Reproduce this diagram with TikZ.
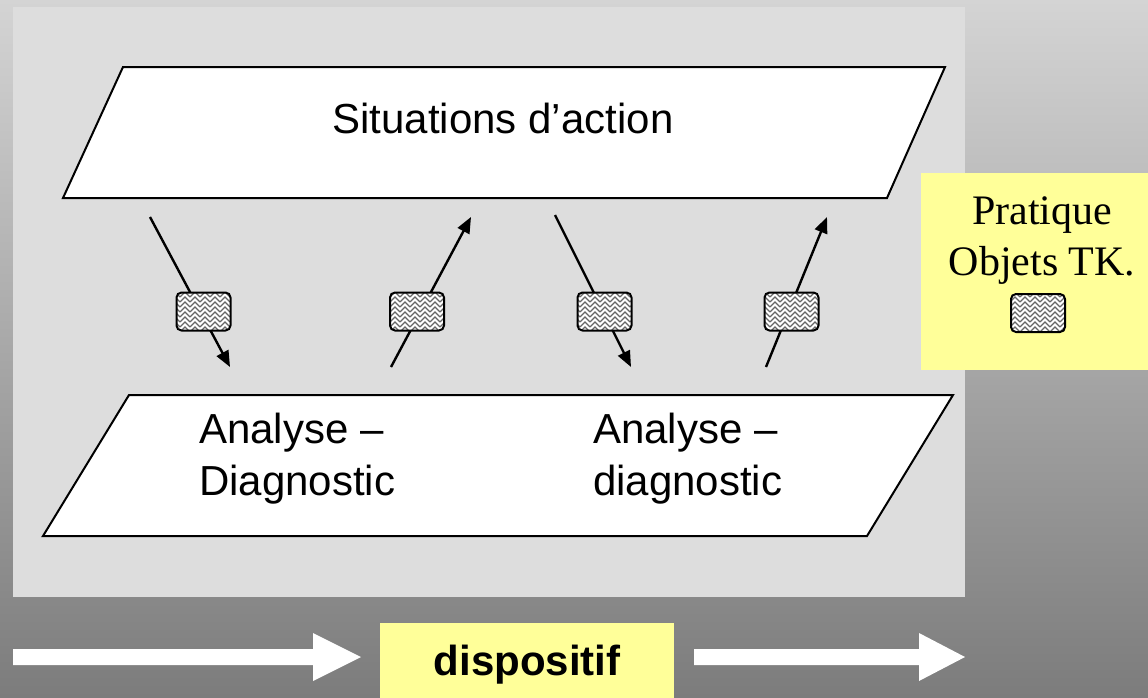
\documentclass[tikz,border=0pt]{standalone}
\usepackage{fontspec}
\setmainfont{Liberation Serif}
\setsansfont{Liberation Sans}
\usetikzlibrary{patterns,arrows.meta}
\definecolor{panel}{HTML}{DDDDDD}
\definecolor{note}{HTML}{FFFF99}
\definecolor{bgtop}{HTML}{D4D4D4}
\definecolor{bgbot}{HTML}{7C7C7C}
\pgfdeclarepatternformonly{weave}{\pgfqpoint{-1pt}{-1pt}}{\pgfqpoint{11pt}{11pt}}{\pgfqpoint{10pt}{10pt}}{%
  \pgfsetlinewidth{1.3pt}%
  \pgfpathmoveto{\pgfqpoint{0pt}{0pt}}\pgfpathlineto{\pgfqpoint{5pt}{5pt}}\pgfpathlineto{\pgfqpoint{10pt}{0pt}}%
  \pgfpathmoveto{\pgfqpoint{0pt}{5pt}}\pgfpathlineto{\pgfqpoint{5pt}{10pt}}\pgfpathlineto{\pgfqpoint{10pt}{5pt}}%
  \pgfusepath{stroke}}
\tikzset{
  para/.style={draw=black,line width=2pt,fill=white,line join=miter},
  lab/.style={font=\sffamily\fontsize{42}{52}\selectfont,inner sep=0pt},
  serif/.style={font=\rmfamily\fontsize{42}{51}\selectfont,inner sep=0pt},
  flow/.style={line width=2.4pt,-{Triangle[length=16pt,width=13pt]}},
  patbox/.style={draw=black,line width=2pt,rounded corners=5pt,minimum width=54pt,minimum height=38pt,inner sep=0pt,
    preaction={fill=white},pattern=weave,pattern color=black!60},
  bigarrow/.style={fill=white,draw=none},
}
\begin{document}
\begin{tikzpicture}[x=1pt,y=-1pt]
\useasboundingbox (0,0) rectangle (1148,697);
\shade[top color=bgtop,bottom color=bgbot] (0,0) rectangle (1148,697);
\fill[panel] (13,7) rectangle (965,597);

% top parallelogram
\draw[para] (123,67) -- (945,67) -- (887,198) -- (63,198) -- cycle;
\node[lab,anchor=base] (sit) at (503,133) {Situations d’action};

% bottom parallelogram
\draw[para] (129,395) -- (953,395) -- (867,536) -- (43,536) -- cycle;
\node[lab,anchor=base west] (an1a) at (199,443) {Analyse –};
\node[lab,anchor=base west] (an1b) at (199,495) {Diagnostic};
\node[lab,anchor=base west] (an2a) at (593,443) {Analyse –};
\node[lab,anchor=base west] (an2b) at (593,495) {diagnostic};

% arrows between levels
\coordinate (a1s) at (150,217); \coordinate (a1e) at (230,367);
\coordinate (a2s) at (391,367); \coordinate (a2e) at (471,217);
\coordinate (a3s) at (555,215); \coordinate (a3e) at (631,367);
\coordinate (a4s) at (766,367); \coordinate (a4e) at (827,217);
\draw[flow] (a1s) -- (a1e);
\draw[flow] (a2s) -- (a2e);
\draw[flow] (a3s) -- (a3e);
\draw[flow] (a4s) -- (a4e);
\node[patbox] (p1) at (203.5,311.5) {};
\node[patbox] (p2) at (417,311.5) {};
\node[patbox] (p3) at (604.5,311.5) {};
\node[patbox] (p4) at (791.5,311.5) {};

% side note
\node[fill=note,minimum width=227pt,minimum height=197pt,inner sep=0pt,anchor=north west] (note) at (921,173) {};
\node[serif,anchor=base] (prat) at (1042,224) {Pratique};
\node[serif,anchor=base] (obj) at (1042,275) {Objets TK.};
\node[patbox] (p5) at (1038,313) {};

% bottom band
\fill[bigarrow] (13,649) -- (313,649) -- (313,633) -- (361,657) -- (313,681) -- (313,665) -- (13,665) -- cycle;
\node[fill=note,minimum width=294pt,minimum height=80pt,inner sep=0pt,anchor=north west] (disp) at (380,623) {};
\node[lab,font=\sffamily\bfseries\fontsize{42}{52}\selectfont,anchor=base] (dtext) at (527,675) {dispositif};
\fill[bigarrow] (694,649) -- (919,649) -- (919,633) -- (965,657) -- (919,681) -- (919,665) -- (694,665) -- cycle;
\end{tikzpicture}
\end{document}
